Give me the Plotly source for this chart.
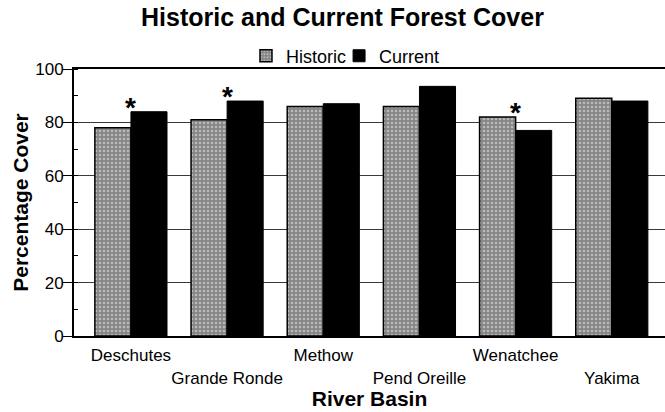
import plotly.graph_objects as go

# River basins and forest cover (percent of basin area)
basins = ["Deschutes", "Grande Ronde", "Methow", "Pend Oreille", "Wenatchee", "Yakima"]
historic = [78, 81, 86, 86, 82, 89]
current = [84, 88, 87, 93.5, 77, 88]
# basins where the change is statistically significant
significant = [True, True, False, False, True, False]

# alternate tick labels between two rows so the long names don't collide
tick_text = [b if i % 2 == 0 else "<br>" + b for i, b in enumerate(basins)]
positions = list(range(len(basins)))

FONT = "Liberation Sans, Arial, Helvetica, sans-serif"

fig = go.Figure()
fig.add_trace(go.Bar(
    name="Historic", x=positions, y=historic, legend="legend", showlegend=True,
    marker=dict(
        color="#8a8a8a",
        line=dict(color="black", width=1.5),
        pattern=dict(shape=".", fgcolor="#eeeeee", bgcolor="#858585",
                     size=4, solidity=0.35),
    ),
))
fig.add_trace(go.Bar(
    name="Current", x=positions, y=current, legend="legend2", showlegend=True,
    marker=dict(color="black", line=dict(color="black", width=1)),
))

# asterisks over the pairs with a significant difference
for pos, h, c, sig in zip(positions, historic, current, significant):
    if sig:
        fig.add_annotation(
            x=pos, y=max(h, c), text="<b>*</b>", showarrow=False,
            xanchor="center", yanchor="bottom", yshift=-13,
            font=dict(family=FONT, size=28, color="black"),
        )

legend_style = dict(
    orientation="h", xanchor="left", y=1.0485, yanchor="middle",
    font=dict(family=FONT, size=18, color="black"),
    bgcolor="rgba(0,0,0,0)",
)

fig.update_layout(
    width=665, height=412,
    margin=dict(l=74, r=0, t=69, b=76),
    paper_bgcolor="white", plot_bgcolor="white",
    barmode="group", bargap=0.25, bargroupgap=0,
    showlegend=True,
    font=dict(family=FONT, color="black"),
    title=dict(
        text="<b>Historic and Current Forest Cover</b>",
        x=0.515, xanchor="center", xref="container",
        y=1 - 8 / 412, yanchor="top", yref="container",
        font=dict(family=FONT, size=25, color="black"),
    ),
    legend=dict(x=0.291, **legend_style),
    legend2=dict(x=0.4485, **legend_style),
    xaxis=dict(
        range=[-0.592, 5.553],
        tickmode="array", tickvals=positions, ticktext=tick_text,
        tickangle=0, ticklabelstandoff=3,
        tickfont=dict(family=FONT, size=17, color="black"),
        ticks="", showgrid=False,
        showline=True, linecolor="black", linewidth=2, mirror=True,
        title=dict(text="<b>River Basin</b>", standoff=3,
                   font=dict(family=FONT, size=21, color="black")),
    ),
    yaxis=dict(
        range=[0, 100], tick0=0, dtick=20,
        tickfont=dict(family=FONT, size=17, color="black"),
        ticks="outside", ticklen=9, tickwidth=1, tickcolor="black",
        ticklabelstandoff=-4,
        showgrid=True, gridcolor="#3a3a3a", gridwidth=1,
        showline=True, linecolor="black", linewidth=2,
        zeroline=False,
        minor=dict(dtick=10, ticks="inside", ticklen=4, tickcolor="black",
                   showgrid=False),
        title=dict(text="<b>Percentage Cover</b>", standoff=1,
                   font=dict(family=FONT, size=21, color="black")),
    ),
)

fig.write_html("out.html")
